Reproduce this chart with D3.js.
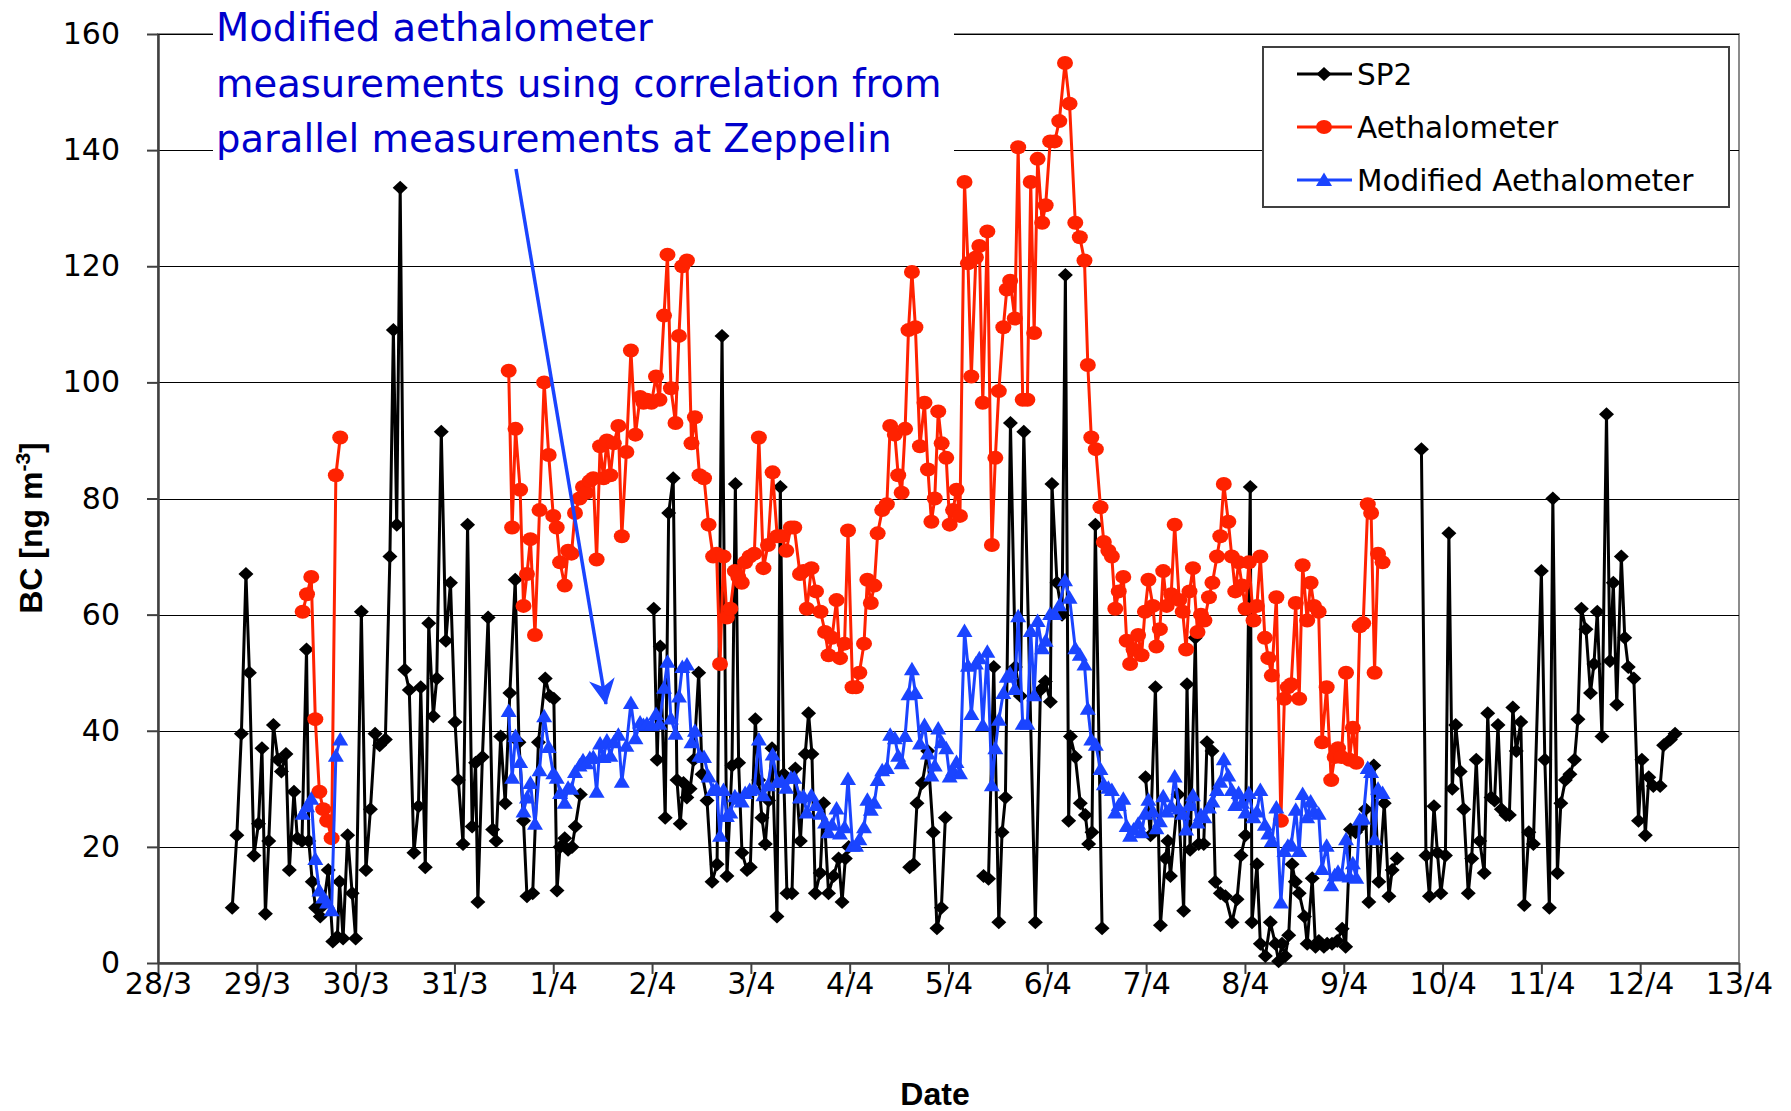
<!DOCTYPE html>
<html>
<head>
<meta charset="utf-8">
<script src="https://cdn.jsdelivr.net/npm/d3@7"></script>
<style>
  body { margin: 0; background: #fff; }
  svg { display: block; }
</style>
</head>
<body>
<div id="chart"></div>
<script>
// time is in days after 28/3 00:00, null marks a gap in the record
var sp2Day = [
  0.751,0.798,0.844,0.890,0.925,0.971,1.017,1.052,1.087,1.121,
  1.168,1.214,1.249,1.295,1.329,1.376,1.410,1.457,1.503,1.526,
  1.561,1.595,1.642,1.676,1.723,1.769,1.815,1.838,1.873,1.919,
  1.965,2.000,2.058,2.104,2.150,2.197,2.243,2.301,2.347,2.382,
  2.416,2.451,2.497,2.543,2.590,2.636,2.659,2.705,2.740,2.786,
  2.821,2.867,2.913,2.960,3.006,3.040,3.087,3.133,3.179,3.214,
  3.237,3.283,3.341,3.387,3.422,3.468,3.514,3.561,3.615,3.653,
  3.699,3.734,3.792,3.850,3.919,3.965,4.006,4.038,4.069,4.116,
  4.150,4.190,4.223,4.274,null,
  5.017,5.052,5.083,5.133,5.168,5.214,5.252,5.285,5.318,5.352,
  5.385,5.422,5.472,5.507,5.556,5.607,5.658,5.708,5.758,5.809,
  5.843,5.876,5.910,5.961,5.994,6.045,6.079,6.112,6.146,6.179,
  6.214,6.264,6.298,6.332,6.365,6.416,6.450,6.501,6.550,6.584,
  6.618,6.652,6.702,6.736,6.786,6.837,6.888,6.923,6.956,6.990,null,
  7.607,7.647,7.681,7.734,7.790,7.845,7.883,7.928,7.968,null,
  8.355,8.405,8.458,8.509,8.542,8.576,8.627,8.677,8.727,
  8.762,8.879,8.930,8.980,9.031,9.047,9.098,9.149,9.183,9.216,
  9.234,9.283,9.334,9.385,9.418,9.452,9.486,9.554,null,
  9.994,10.044,10.094,10.145,10.196,10.220,10.246,10.324,10.380,10.414,
  10.445,10.498,10.532,10.583,10.616,10.667,10.700,10.751,10.802,10.869,
  10.920,10.960,11.005,11.054,11.071,11.122,11.156,11.207,11.257,11.308,
  11.341,11.375,11.408,11.443,11.477,11.510,11.549,11.602,11.630,11.681,
  11.714,11.748,11.799,11.832,11.881,11.934,11.984,12.019,12.068,12.119,
  12.170,12.220,12.254,12.304,12.355,12.410,12.457,12.490,12.540,null,
  12.786,12.832,12.867,12.913,12.948,12.983,13.029,13.064,13.098,13.133,
  13.179,13.214,13.260,13.295,13.341,13.376,13.422,13.457,13.491,13.526,
  13.561,13.595,13.642,13.676,13.711,13.746,13.792,13.827,13.873,13.919,
  14.000,14.035,14.081,14.116,14.162,14.197,14.243,14.289,14.335,14.370,
  14.405,14.451,14.497,14.532,14.566,14.613,14.659,14.694,14.728,14.763,
  14.809,14.844,14.879,14.936,14.983,15.017,15.052,15.087,15.133,15.202,
  15.237,15.306,15.353
];
var sp2BC = [
  9.5,22,39.5,67,50,18.5,24,37,8.5,21,
  41,35,33,36,16,29.5,21.5,21,54,21,
  14,9.5,8,10,16,3.7,4.5,14,4.2,22,
  12,4.2,60.5,16,26.5,39.5,37.5,38.5,70,109,
  75.5,133.5,50.5,47,19,27,47.5,16.5,58.5,42.5,
  49,91.5,55.5,65.5,41.5,31.5,20.5,75.5,23.5,34.5,
  10.5,35.5,59.5,23,21,39,27.5,46.5,66,38,
  24.5,11.5,12,38,49,46,45.5,12.5,20,21.5,
  19.5,20,23.5,29,null,
  61,35,54.5,25,77.5,83.5,31.5,24,31,28.5,
  30,35,50,32.5,28,14,17,108,15,34,
  82.5,34.5,19,16,16.5,42,31.5,25,20.5,28,
  37,8,82,32.5,12,12,33.5,21,36,43,
  36,12,15.5,27.5,12,15,18,10.5,18,20,null,
  16.5,17,27.5,31,36.5,22.5,6,9.5,25,null,
  15,14.5,51,7,22.5,28.5,93,51,46,
  91.5,7,47,48.5,45,82.5,65.5,60,118.5,24.5,
  39,35.5,27.5,25.5,20.5,22.5,75.5,6,null,
  32,22,47.5,6.5,18,21,15,29,9,48,
  19.5,56,20.5,20.5,38,36.5,14,12,11.5,7,
  11,18.5,22,82,7,17,3.3,1.2,7,3.3,
  0.3,3.3,1.2,4.8,17,14,12,8,3.3,14.6,
  2.8,3.8,2.8,3.3,3.3,3.8,5.9,2.8,23,22.5,
  23.5,26.5,10.5,34,14,27.5,11.5,16,18,null,
  88.5,18.5,11.5,27,19,12,18.5,74,30,41,
  33,26.5,12,18,35,21,15.5,43,28.5,28,
  41,26.5,25.5,25.5,44,36.5,41.5,10,22.5,20.5,
  67.5,35,9.5,80,15.5,27.5,31.5,32.5,35,42,
  61,57.5,46.5,51.5,60.5,39,94.5,52,65.5,44.5,
  70,56,51,49,24.5,35,22,32,30.5,30.5,
  37.5,38.5,39.5
];

// aethalometer and modified aethalometer share the same time stamps
var aethDay = [
  1.464,1.508,1.551,1.592,1.633,1.672,1.712,1.757,1.800,1.844,null,
  3.549,3.584,3.618,3.665,3.699,3.734,3.769,3.815,3.861,3.908,
  3.954,4.000,4.035,4.069,4.116,4.150,4.185,4.220,4.266,4.301,
  4.335,4.370,4.405,4.439,4.474,4.509,4.543,4.578,4.613,4.659,
  4.694,4.740,4.786,4.832,4.879,4.913,4.948,4.994,5.040,5.075,
  5.121,5.156,5.191,5.237,5.272,5.306,5.353,5.399,5.434,5.480,
  5.526,5.572,5.618,5.653,5.688,5.723,5.757,5.792,5.838,5.873,
  5.908,5.942,5.988,6.035,6.081,6.127,6.173,6.220,6.266,6.312,
  6.358,6.405,6.439,6.497,6.532,6.566,6.613,6.659,6.705,6.751,
  6.786,6.821,6.867,6.902,6.948,6.983,7.029,7.064,7.098,7.145,
  7.179,7.214,7.249,7.283,7.329,7.376,7.410,7.457,7.491,7.526,
  7.561,7.595,7.630,7.665,7.711,7.757,7.792,7.827,7.861,7.896,
  7.931,7.977,8.012,8.046,8.081,8.116,8.162,8.197,8.231,8.277,
  8.312,8.347,8.393,8.439,8.474,8.509,8.555,8.590,8.624,8.671,
  8.705,8.751,8.798,8.832,8.867,8.902,8.948,8.983,9.029,9.075,
  9.121,9.179,9.225,9.283,9.329,9.376,9.410,9.445,9.491,9.538,
  9.572,9.618,9.653,9.688,9.723,9.769,9.803,9.838,9.873,9.919,
  9.954,9.988,10.023,10.069,10.104,10.139,10.173,10.208,10.254,10.289,
  10.335,10.370,10.405,10.439,10.474,10.520,10.555,10.590,10.636,10.671,
  10.717,10.751,10.786,10.832,10.867,10.902,10.936,10.971,11.006,11.040,
  11.087,11.121,11.156,11.202,11.237,11.272,11.318,11.364,11.399,11.434,
  11.468,11.514,11.549,11.584,11.630,11.665,11.699,11.746,11.780,11.827,
  11.873,11.908,11.942,11.977,12.023,12.058,12.092,12.127,12.162,12.197,
  12.243,12.277,12.312,12.347,12.393
];
var aethBC = [
  60.5,63.5,66.5,42,29.5,26.5,24.5,21.5,84,90.5,null,
  102,75,92,81.5,61.5,67,73,56.5,78,100,
  87.5,77,75,69,65,71,70.5,77.5,80,82,
  81,83,83.5,69.5,89,83.5,90,84,89.5,92.5,
  73.5,88,105.5,91,97.5,96.5,97,96.5,101,97,
  111.5,122,99,93,108,120,121,89.5,94,84,
  83.5,75.5,70,70.5,51.5,70,59.5,61,67.5,66.5,
  65.5,69,70,70.5,90.5,68,72,84.5,73.5,73.5,
  71,75,75,67,67.5,61,68,64,60.5,57,
  53,56,62.5,52.5,55,74.5,47.5,47.5,50,55,
  66,62,65,74,78,79,92.5,91,84,81,
  92,109,119,109.5,89,96.5,85,76,80,95,
  89.5,87,75.5,78,81.5,77,134.5,120.5,101,121.5,
  123.5,96.5,126,72,87,98.5,109.5,116,117.5,111,
  140.5,97,97,134.5,108.5,138.5,127.5,130.5,141.5,141.5,
  145,155,148,127.5,125,121,103,90.5,88.5,78.5,
  72.5,71,70,61,64,66.5,55.5,51.5,54,56.5,
  53,60.5,66,61.5,54.5,57.5,67.5,61.5,63.5,75.5,
  62.5,60.5,54,64,68,57,60,59,63,65.5,
  70,73.5,82.5,76,70,64,69,65,61,69,
  59,61.5,70,56,52.5,49.5,63,24.5,45.5,47.5,
  48,62,45.5,68.5,59,65.5,61.5,60.5,38,47.5,
  31.5,35.5,37,35.5,50,35,40.5,34.5,58,58.5,
  79,77.5,50,70.5,69
];
var modBC = [
  25.7,27.0,28.3,17.9,12.5,11.3,10.4,9.1,35.7,38.5,null,
  43.4,31.9,39.1,34.6,26.1,28.5,31.0,24.0,33.2,42.5,
  37.2,32.7,31.9,29.3,27.6,30.2,30.0,32.9,34.0,34.9,
  34.4,35.3,35.5,29.5,37.8,35.5,38.3,35.7,38.0,39.3,
  31.2,37.4,44.8,38.7,41.4,41.0,41.2,41.0,42.9,41.2,
  47.4,51.9,42.1,39.5,45.9,51.0,51.4,38.0,40.0,35.7,
  35.5,32.1,29.8,30.0,21.9,29.8,25.3,25.9,28.7,28.3,
  27.8,29.3,29.8,30.0,38.5,28.9,30.6,35.9,31.2,31.2,
  30.2,31.9,31.9,28.5,28.7,25.9,28.9,27.2,25.7,24.2,
  22.5,23.8,26.6,22.3,23.4,31.7,20.2,20.2,21.3,23.4,
  28.1,26.4,27.6,31.5,33.2,33.6,39.3,38.7,35.7,34.4,
  39.1,46.3,50.6,46.5,37.8,41.0,36.1,32.3,34.0,40.4,
  38.0,37.0,32.1,33.2,34.6,32.7,57.2,51.2,42.9,51.6,
  52.5,41.0,53.6,30.6,37.0,41.9,46.5,49.3,49.9,47.2,
  59.7,41.2,41.2,57.2,46.1,58.9,54.2,55.5,60.1,60.1,
  61.6,65.9,62.9,54.2,53.1,51.4,43.8,38.5,37.6,33.4,
  30.8,30.2,29.8,25.9,27.2,28.3,23.6,21.9,23.0,24.0,
  22.5,25.7,28.1,26.1,23.2,24.4,28.7,26.1,27.0,32.1,
  26.6,25.7,23.0,27.2,28.9,24.2,25.5,25.1,26.8,27.8,
  29.8,31.2,35.1,32.3,29.8,27.2,29.3,27.6,25.9,29.3,
  25.1,26.1,29.8,23.8,22.3,21.0,26.8,10.4,19.3,20.2,
  20.4,26.4,19.3,29.1,25.1,27.8,26.1,25.7,16.2,20.2,
  13.4,15.1,15.7,15.1,21.3,14.9,17.2,14.7,24.7,24.9,
  33.6,32.9,21.3,30.0,29.3
];

var yTicks = [0, 20, 40, 60, 80, 100, 120, 140, 160];
var dateStart = "28/3/2012", dateEnd = "13/4/2012";
var seriesNames = ["SP2", "Aethalometer", "Modified Aethalometer"];
var seriesColors = ["#000000", "#ff2200", "#1a44ff"];
var noteLines = ["Modified aethalometer",
                 "measurements using correlation from",
                 "parallel measurements at Zeppelin"];

// set the dimensions and margins of the graph
var W = 1791, H = 1111;
var margin = {top: 34, right: 52, bottom: 148, left: 158};
var width = W - margin.left - margin.right,
    height = H - margin.top - margin.bottom;

var parseDay = d3.utcParse("%d/%m/%Y");
var t0 = parseDay(dateStart);
function toDate(d) { return new Date(t0.getTime() + d * 864e5); }

var svg0 = d3.select("#chart").append("svg")
    .attr("width", W)
    .attr("height", H);
var svg = svg0.append("g")
    .attr("transform", "translate(" + margin.left + "," + margin.top + ")");

var x = d3.scaleUtc()
    .domain([t0, parseDay(dateEnd)])
    .range([0, width]);
var y = d3.scaleLinear()
    .domain([0, 160])
    .range([height, 0]);

// plot area border + gridlines
svg.append("rect")
    .attr("width", width).attr("height", height)
    .attr("fill", "none")
    .attr("stroke", "#8c8c8c")
    .attr("stroke-width", 2);
svg.selectAll(".grid")
    .data(yTicks.filter(function(d) { return d > 0; }))
    .enter().append("line")
    .attr("x1", 0).attr("x2", width)
    .attr("y1", function(d) { return Math.round(y(d)) + 0.5; })
    .attr("y2", function(d) { return Math.round(y(d)) + 0.5; })
    .attr("stroke", "#000")
    .attr("stroke-width", 1.2);

// axes
var yAxis = svg.append("g")
    .call(d3.axisLeft(y).tickValues(yTicks).tickSize(11).tickSizeOuter(0));
yAxis.selectAll("text")
    .attr("x", -38)
    .style("font-family", "DejaVu Sans")
    .style("font-size", "30px")
    .attr("fill", "#000");

var xAxis = svg.append("g")
    .attr("transform", "translate(0," + height + ")")
    .call(d3.axisBottom(x).ticks(d3.utcDay.every(1))
        .tickFormat(d3.utcFormat("%-d/%-m")).tickSize(11).tickSizeOuter(0));
xAxis.selectAll("text")
    .attr("y", 31).attr("dy", null)
    .style("font-family", "DejaVu Sans")
    .style("font-size", "30px")
    .attr("fill", "#000");

[yAxis, xAxis].forEach(function(a) {
    a.select(".domain").attr("stroke", "#404040").attr("stroke-width", 2.5);
    a.selectAll(".tick line").attr("stroke", "#404040").attr("stroke-width", 2);
});

// series
function toPoints(days, vals) {
    return days.map(function(d, i) {
        return d == null || vals[i] == null ? null : {t: toDate(d), v: vals[i]};
    });
}
var line = d3.line()
    .defined(function(d) { return d != null; })
    .x(function(d) { return x(d.t); })
    .y(function(d) { return y(d.v); });

var diamond = "M0,-7L7.5,0L0,7L-7.5,0Z";
var triangle = "M0,-7.5L8,6L-8,6Z";

var allSeries = [
    {pts: toPoints(sp2Day, sp2BC), shape: "diamond"},
    {pts: toPoints(aethDay, aethBC), shape: "circle"},
    {pts: toPoints(aethDay, modBC), shape: "triangle"}
];

function drawMarker(sel, shape, color) {
    if (shape === "circle") {
        sel.append("ellipse").attr("rx", 8).attr("ry", 7).attr("fill", color);
    } else {
        sel.append("path").attr("d", shape === "diamond" ? diamond : triangle).attr("fill", color);
    }
}

allSeries.forEach(function(s, i) {
    var g = svg.append("g");
    g.append("path")
        .datum(s.pts)
        .attr("d", line)
        .attr("fill", "none")
        .attr("stroke", seriesColors[i])
        .attr("stroke-width", 3)
        .attr("stroke-linejoin", "round");
    var m = g.selectAll(".m")
        .data(s.pts.filter(function(d) { return d != null; }))
        .enter().append("g")
        .attr("transform", function(d) { return "translate(" + x(d.t) + "," + y(d.v) + ")"; });
    drawMarker(m, s.shape, seriesColors[i]);
});

// annotation
svg0.append("rect")
    .attr("x", 213).attr("y", 0)
    .attr("width", 741).attr("height", 168)
    .attr("fill", "#fff");
svg0.selectAll(".note")
    .data(noteLines)
    .enter().append("text")
    .attr("x", 216)
    .attr("y", function(d, i) { return 41 + i * 55.5; })
    .style("font-family", "DejaVu Sans")
    .style("font-size", "38.5px")
    .attr("fill", "#0000cc")
    .text(function(d) { return d; });

var defs = svg0.append("defs");
defs.append("marker")
    .attr("id", "arrowhead")
    .attr("viewBox", "0 0 24 24")
    .attr("refX", 23).attr("refY", 12)
    .attr("markerWidth", 26).attr("markerHeight", 26)
    .attr("markerUnits", "userSpaceOnUse")
    .attr("orient", "auto")
  .append("path")
    .attr("d", "M0,0L24,12L0,24L7,12Z")
    .attr("fill", "#1a44ff");
svg0.append("line")
    .attr("x1", 516).attr("y1", 169)
    .attr("x2", 606).attr("y2", 704)
    .attr("stroke", "#1a44ff")
    .attr("stroke-width", 3.5)
    .attr("marker-end", "url(#arrowhead)");

// legend
var legend = svg0.append("g").attr("transform", "translate(1263,47)");
legend.append("rect")
    .attr("width", 466).attr("height", 160)
    .attr("fill", "#fff")
    .attr("stroke", "#404040")
    .attr("stroke-width", 2);
var shapes = ["diamond", "circle", "triangle"];
seriesNames.forEach(function(name, i) {
    var row = legend.append("g").attr("transform", "translate(0," + (27 + i * 53) + ")");
    row.append("line")
        .attr("x1", 34).attr("x2", 89)
        .attr("stroke", seriesColors[i])
        .attr("stroke-width", 3);
    drawMarker(row.append("g").attr("transform", "translate(61,0)"), shapes[i], seriesColors[i]);
    row.append("text")
        .attr("x", 94).attr("dy", "0.36em")
        .style("font-family", "DejaVu Sans")
        .style("font-size", "29.5px")
        .attr("fill", "#000")
        .text(name);
});

// axis titles
var yTitle = svg0.append("text")
    .attr("transform", "translate(42,528) rotate(-90)")
    .attr("text-anchor", "middle")
    .style("font-family", "Liberation Sans")
    .style("font-weight", "bold")
    .style("font-size", "32px");
yTitle.append("tspan").text("BC [ng m");
yTitle.append("tspan").attr("dy", -12).style("font-size", "21px").text("-3");
yTitle.append("tspan").attr("dy", 12).text("]");

svg0.append("text")
    .attr("x", 935).attr("y", 1105)
    .attr("text-anchor", "middle")
    .style("font-family", "Liberation Sans")
    .style("font-weight", "bold")
    .style("font-size", "32px")
    .text("Date");
</script>
</body>
</html>
